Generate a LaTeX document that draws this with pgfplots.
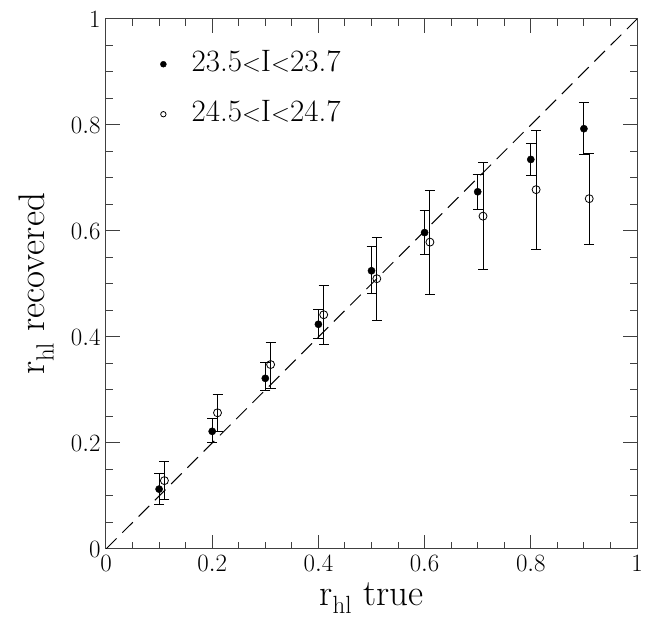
\documentclass[border=0pt]{standalone}
\usepackage{pgfplots}
\pgfplotsset{compat=1.18}
\usepackage{pgfplotstable}

% recovered half-light radius: x, y, upper and lower error
\pgfplotstableread{
x    y      ep     em
0.10 0.113  0.029  0.029
0.20 0.222  0.024  0.021
0.30 0.322  0.030  0.023
0.40 0.424  0.028  0.027
0.50 0.525  0.045  0.043
0.60 0.597  0.041  0.041
0.70 0.674  0.032  0.034
0.80 0.735  0.031  0.030
0.90 0.793  0.050  0.048
}\bright

\pgfplotstableread{
x    y      ep     em
0.11 0.129  0.036  0.036
0.21 0.257  0.034  0.035
0.31 0.348  0.042  0.046
0.41 0.442  0.056  0.057
0.51 0.510  0.078  0.079
0.61 0.579  0.098  0.099
0.71 0.628  0.101  0.100
0.81 0.678  0.112  0.113
0.91 0.661  0.085  0.086
}\faint

\begin{document}
\begin{tikzpicture}
\begin{axis}[
  name=ax,
  scale only axis,
  width=531pt, height=530pt,
  xmin=0, xmax=1, ymin=0, ymax=1,
  xtick={0,0.2,...,1}, ytick={0,0.2,...,1},
  minor tick num=3,
  tick align=inside,
  xtick pos=both, ytick pos=both,
  major tick length=14pt, minor tick length=7pt,
  axis line style={line width=1pt, black!75},
  every tick/.style={line width=1pt, black!75},
  tick label style={font=\fontsize{26}{26}\selectfont},
  xticklabel style={yshift=-3pt},
  yticklabel style={xshift=-2pt},
  xlabel={r$_{\mathrm{hl}}$ true},
  ylabel={r$_{\mathrm{hl}}$ recovered},
  label style={font=\fontsize{37}{37}\selectfont},
  xlabel style={at={(axis description cs:0.5,-0.106)}, anchor=base},
  ylabel style={at={(axis description cs:-0.115,0.5)}, anchor=base},
  legend cell align=left,
  legend style={
    at={(axis cs:0.096,0.8675)}, anchor=west,
    draw=none, fill=none,
    font=\fontsize{31}{31}\selectfont,
    nodes={inner sep=0pt, text height=21pt, text depth=6pt},
    row sep=23pt, column sep=25pt,
  },
  error bars/error bar style={line width=1pt, black},
  error bars/error mark options={rotate=90, mark size=5pt, line width=1pt, black},
]
\addplot+[only marks, mark=*, mark size=3.6pt, black, mark options={fill=black},
  legend image code/.code={\fill[black] (0pt,0pt) circle (3pt);},
  error bars/.cd, y dir=both, y explicit]
  table[x=x, y=y, y error plus=ep, y error minus=em] {\bright};
\addlegendentry{23.5$\mathord{<}$I$\mathord{<}$23.7}
\addplot+[only marks, mark=o, mark size=4pt, black, mark options={fill=white, line width=0.8pt},
  legend image code/.code={\draw[black, line width=0.8pt] (0pt,0pt) circle (2.7pt);},
  error bars/.cd, y dir=both, y explicit]
  table[x=x, y=y, y error plus=ep, y error minus=em] {\faint};
\addlegendentry{24.5$\mathord{<}$I$\mathord{<}$24.7}
% one-to-one line
\addplot[forget plot, black, line width=1pt, dash pattern=on 15pt off 8pt] coordinates {(0,0) (1,1)};
\end{axis}
\pgfresetboundingbox
\path ([shift={(-106pt,-72pt)}]ax.south west) rectangle ([shift={(542pt,549pt)}]ax.south west);
\end{tikzpicture}
\end{document}
